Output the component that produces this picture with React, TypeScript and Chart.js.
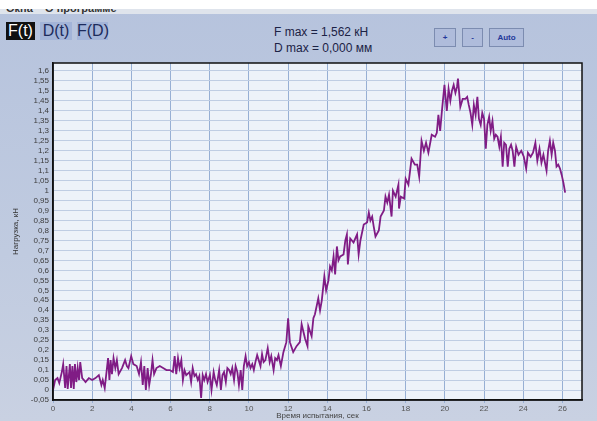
import React, { useEffect, useRef } from "react";
import { Chart, registerables } from "chart.js";

Chart.register(...registerables);

// Time of test, s
const times: number[] = [
  0.0, 0.11, 0.23, 0.32, 0.45, 0.52, 0.62, 0.69, 0.75, 0.86, 0.92, 0.99, 1.06, 1.12, 1.19, 1.26, 1.33, 1.39, 1.49, 1.58, 1.66,
  1.83, 2.0, 2.17, 2.34, 2.47, 2.54, 2.64, 2.72, 2.81, 2.88, 2.94, 3.01, 3.09, 3.18, 3.26, 3.35,
  3.52, 3.68, 3.77, 3.85, 3.99, 4.1, 4.27, 4.39, 4.49, 4.58, 4.66, 4.74, 4.83, 4.91, 5.0,
  5.08, 5.16, 5.28, 5.45, 5.62, 5.79, 5.96, 6.12, 6.21, 6.29, 6.38, 6.46, 6.55, 6.63, 6.71, 6.8,
  6.97, 7.05, 7.13, 7.22, 7.3, 7.39, 7.47, 7.56, 7.64, 7.72, 7.81, 7.89, 8.01, 8.09, 8.2, 8.28, 8.36, 8.48, 8.57,
  8.65, 8.73, 8.82, 8.9, 8.99, 9.07, 9.15, 9.24, 9.32, 9.41, 9.49, 9.58, 9.66, 9.74, 9.83, 9.91, 10.0,
  10.08, 10.17, 10.25, 10.33, 10.42, 10.5, 10.59, 10.67, 10.75, 10.84, 10.96, 11.06, 11.14, 11.26, 11.34, 11.43, 11.51, 11.63, 11.76,
  11.91, 12.0, 12.09, 12.26, 12.43, 12.6, 12.69, 12.86, 12.99, 13.03, 13.2, 13.29, 13.37,
  13.54, 13.63, 13.72, 13.85, 13.94, 14.06, 14.14, 14.23, 14.32, 14.4, 14.49, 14.57, 14.66, 14.83, 14.92, 15.0,
  15.05, 15.17, 15.34, 15.52, 15.6, 15.69, 15.86, 16.03, 16.12, 16.2, 16.29, 16.37, 16.46,
  16.63, 16.72, 16.89, 16.97, 17.06, 17.15, 17.28, 17.35, 17.49, 17.63, 17.66, 17.75, 17.92, 18.0, 18.14,
  18.3, 18.47, 18.59, 18.69, 18.81, 18.93, 19.04, 19.16, 19.33, 19.5, 19.59, 19.67, 19.76, 19.85, 19.98,
  20.1, 20.19, 20.28, 20.36, 20.45, 20.54, 20.62, 20.67, 20.79, 20.91, 21.05, 21.14, 21.22, 21.31, 21.4,
  21.48, 21.57, 21.66, 21.74, 21.83, 21.91, 22.0, 22.09, 22.17, 22.26, 22.34, 22.43, 22.52, 22.6, 22.69, 22.78, 22.86,
  22.95, 23.03, 23.12, 23.21, 23.29, 23.38, 23.46, 23.55, 23.64, 23.76, 23.9, 24.03, 24.15, 24.24, 24.38, 24.5,
  24.62, 24.72, 24.83, 24.93, 25.03, 25.19, 25.27, 25.36, 25.45, 25.53, 25.62, 25.7, 25.79, 25.88, 25.96, 26.05, 26.14,
];

// Load, kN
const loads: number[] = [
  0.0, 0.05, 0.06, 0.035, 0.09, 0.13, 0.01, 0.12, 0.005, 0.13, 0.01, 0.12, 0.005, 0.13, 0.04, 0.11, 0.05, 0.14, 0.06, 0.05, 0.04,
  0.06, 0.05, 0.06, 0.075, 0.025, 0.05, 0.01, 0.08, 0.16, 0.05, 0.15, 0.08, 0.16, 0.11, 0.15, 0.08,
  0.11, 0.15, 0.12, 0.11, 0.17, 0.13, 0.12, 0.08, 0.14, 0.025, 0.12, 0.0, 0.11, 0.025, 0.08,
  0.15, 0.08, 0.11, 0.12, 0.11, 0.1, 0.1, 0.09, 0.17, 0.08, 0.16, 0.11, 0.15, 0.05, 0.1, 0.075,
  0.09, 0.04, 0.11, 0.07, 0.08, 0.05, 0.07, -0.04, 0.075, 0.05, 0.08, 0.04, 0.075, 0.0, 0.09, 0.05, 0.025, 0.1, 0.0,
  0.075, 0.09, 0.04, 0.11, 0.1, 0.08, 0.11, 0.05, 0.12, 0.09, 0.025, 0.1, 0.0, 0.12, 0.17, 0.12, 0.14,
  0.11, 0.13, 0.1, 0.14, 0.175, 0.15, 0.12, 0.18, 0.14, 0.15, 0.21, 0.14, 0.17, 0.1, 0.16, 0.15, 0.175, 0.12, 0.19,
  0.24, 0.36, 0.24, 0.19, 0.22, 0.24, 0.33, 0.26, 0.22, 0.32, 0.27, 0.36, 0.38,
  0.46, 0.4, 0.45, 0.57, 0.5, 0.55, 0.62, 0.6, 0.67, 0.58, 0.72, 0.65, 0.67, 0.68, 0.75, 0.78,
  0.63, 0.76, 0.74, 0.78, 0.68, 0.75, 0.83, 0.84, 0.89, 0.85, 0.87, 0.82, 0.77,
  0.8, 0.87, 0.9, 0.97, 0.94, 0.98, 0.87, 1.0, 0.97, 1.03, 0.91, 0.97, 0.96, 1.06, 1.03,
  1.16, 1.13, 1.13, 1.07, 1.25, 1.2, 1.24, 1.19, 1.28, 1.27, 1.29, 1.38, 1.3, 1.4, 1.53,
  1.4, 1.51, 1.45, 1.5, 1.53, 1.49, 1.52, 1.562, 1.42, 1.46, 1.46, 1.47, 1.43, 1.39, 1.33,
  1.43, 1.38, 1.47, 1.36, 1.33, 1.39, 1.36, 1.21, 1.33, 1.37, 1.3, 1.35, 1.26, 1.28, 1.27, 1.22, 1.27,
  1.12, 1.24, 1.23, 1.12, 1.21, 1.23, 1.2, 1.12, 1.22, 1.18, 1.2, 1.17, 1.11, 1.19, 1.17, 1.19,
  1.24, 1.15, 1.21, 1.14, 1.18, 1.1, 1.2, 1.25, 1.18, 1.24, 1.2, 1.12, 1.13, 1.11, 1.08, 1.04, 0.99,
];

const xTickValues: number[] = [0, 2, 4, 6, 8, 10, 12, 14, 16, 18, 20, 22, 24, 26];
const yTickValues: number[] = [
  -0.05, 0, 0.05, 0.1, 0.15, 0.2, 0.25, 0.3, 0.35, 0.4, 0.45, 0.5, 0.55, 0.6, 0.65, 0.7, 0.75, 0.8,
  0.85, 0.9, 0.95, 1, 1.05, 1.1, 1.15, 1.2, 1.25, 1.3, 1.35, 1.4, 1.45, 1.5, 1.55, 1.6,
];

const xTitle = "Время испытания, сек";
const yTitle = "Нагрузка, кН";
const tabs = ["F(t)", "D(t)", "F(D)"];
const infoLines = ["F max = 1,562 кН", "D max = 0,000 мм"];

const FONT = "'Liberation Sans', Arial, sans-serif";

const frame = {
  id: "frame",
  beforeDraw(chart: any) {
    const { ctx, chartArea: a } = chart;
    ctx.save();
    ctx.fillStyle = "#edf2f9";
    ctx.fillRect(a.left, a.top, a.right - a.left, a.bottom - a.top);
    ctx.restore();
  },
  afterDraw(chart: any) {
    const { ctx, chartArea: a } = chart;
    ctx.save();
    ctx.strokeStyle = "#111";
    ctx.lineWidth = 1.5;
    ctx.strokeRect(a.left, a.top, a.right - a.left, a.bottom - a.top);
    ctx.restore();
  },
};

function LoadChart() {
  const ref = useRef<HTMLCanvasElement | null>(null);
  useEffect(() => {
    if (!ref.current) return;
    const chart = new Chart(ref.current, {
      type: "scatter",
      data: {
        datasets: [
          {
            data: times.map((t, i) => ({ x: t, y: loads[i] })),
            showLine: true,
            borderColor: "#801c85",
            borderWidth: 1.8,
            pointRadius: 0,
            tension: 0,
          },
        ],
      },
      plugins: [frame],
      options: {
        animation: false,
        responsive: false,
        devicePixelRatio: 1,
        layout: { padding: { top: 8, right: 15, left: 0, bottom: 0 } },
        plugins: { legend: { display: false }, tooltip: { enabled: false } },
        scales: {
          x: {
            type: "linear",
            min: 0,
            max: 27,
            afterBuildTicks: (s: any) => {
              s.ticks = xTickValues.map((v) => ({ value: v }));
            },
            afterFit: (s: any) => {
              s.height = 21;
            },
            grid: { color: "#97afd4", lineWidth: 1, tickLength: 3, drawTicks: true },
            border: { color: "#111", width: 1.5 },
            ticks: {
              color: "#555",
              font: { family: FONT, size: 8 },
              padding: 1,
              maxRotation: 0,
              callback: (v: any) => String(v),
            },
            title: {
              display: true,
              text: xTitle,
              color: "#444",
              font: { family: FONT, size: 8 },
              padding: { top: 0, bottom: 0 },
            },
          },
          y: {
            type: "linear",
            min: -0.05,
            max: 1.64,
            afterBuildTicks: (s: any) => {
              s.ticks = yTickValues.map((v) => ({ value: v }));
            },
            afterFit: (s: any) => {
              s.width = 53;
            },
            grid: { color: "#bfcde3", lineWidth: 1, tickLength: 3 },
            border: { color: "#111", width: 1.5 },
            ticks: {
              color: "#3c3c3c",
              font: { family: FONT, size: 8 },
              padding: 1,
              autoSkip: false,
              callback: (v: any) => String(v).replace(".", ","),
            },
            title: {
              display: true,
              text: yTitle,
              color: "#333",
              font: { family: FONT, size: 8 },
              padding: { top: 11, bottom: 0 },
            },
          },
        },
      },
    });
    return () => chart.destroy();
  }, []);
  return (
    <canvas
      ref={ref}
      width={597}
      height={366}
      style={{ position: "absolute", left: 0, top: 55, width: 597, height: 366 }}
    />
  );
}

export default function App() {
  useEffect(() => {
    document.body.style.margin = "0";
  }, []);
  const tabStyle = (i: number): React.CSSProperties => ({
    position: "absolute",
    top: 22,
    left: [6, 40, 77][i],
    width: [29, 32, 31][i],
    height: 18,
    lineHeight: "18px",
    textAlign: "center",
    fontSize: 16,
    fontFamily: FONT,
    background: i === 0 ? "#111" : "#a3b4d8",
    color: i === 0 ? "#fff" : "#1c2b5c",
  });
  const btn = (left: number, width: number): React.CSSProperties => ({
    position: "absolute",
    top: 28,
    left,
    width,
    height: 19,
    boxSizing: "border-box",
    border: "1px solid #7c8cb0",
    background: "#afbcdb",
    color: "#23389a",
    fontWeight: "bold",
    fontSize: 8,
    lineHeight: "17px",
    textAlign: "center",
    fontFamily: FONT,
  });
  return (
    <div
      style={{
        position: "fixed",
        left: 0,
        top: 0,
        width: 597,
        height: 421,
        overflow: "hidden",
        background: "linear-gradient(180deg, #b6c3dd 0%, #c0cbe0 60%, #c9d1e2 100%)",
        fontFamily: FONT,
      }}
    >
      <div style={{ position: "absolute", left: 0, top: 0, width: 597, height: 14, background: "#dfe4ec", overflow: "hidden" }}>
        <div style={{ position: "absolute", left: 6, top: 2, fontSize: 11, fontWeight: "bold", color: "#333", whiteSpace: "pre" }}>
          {"Окна    О программе"}
        </div>
      </div>
      <div style={{ position: "absolute", left: 0, top: 0, width: 597, height: 9, background: "#fff" }} />
      {tabs.map((t, i) => (
        <div key={t} style={tabStyle(i)}>
          {t}
        </div>
      ))}
      <div style={{ position: "absolute", left: 274, top: 24, fontSize: 12, lineHeight: "16px", color: "#1b2245" }}>
        {infoLines.map((l) => (
          <div key={l}>{l}</div>
        ))}
      </div>
      <div style={btn(434, 22)}>+</div>
      <div style={btn(462, 21)}>-</div>
      <div style={btn(489, 35)}>Auto</div>
      <LoadChart />
    </div>
  );
}
